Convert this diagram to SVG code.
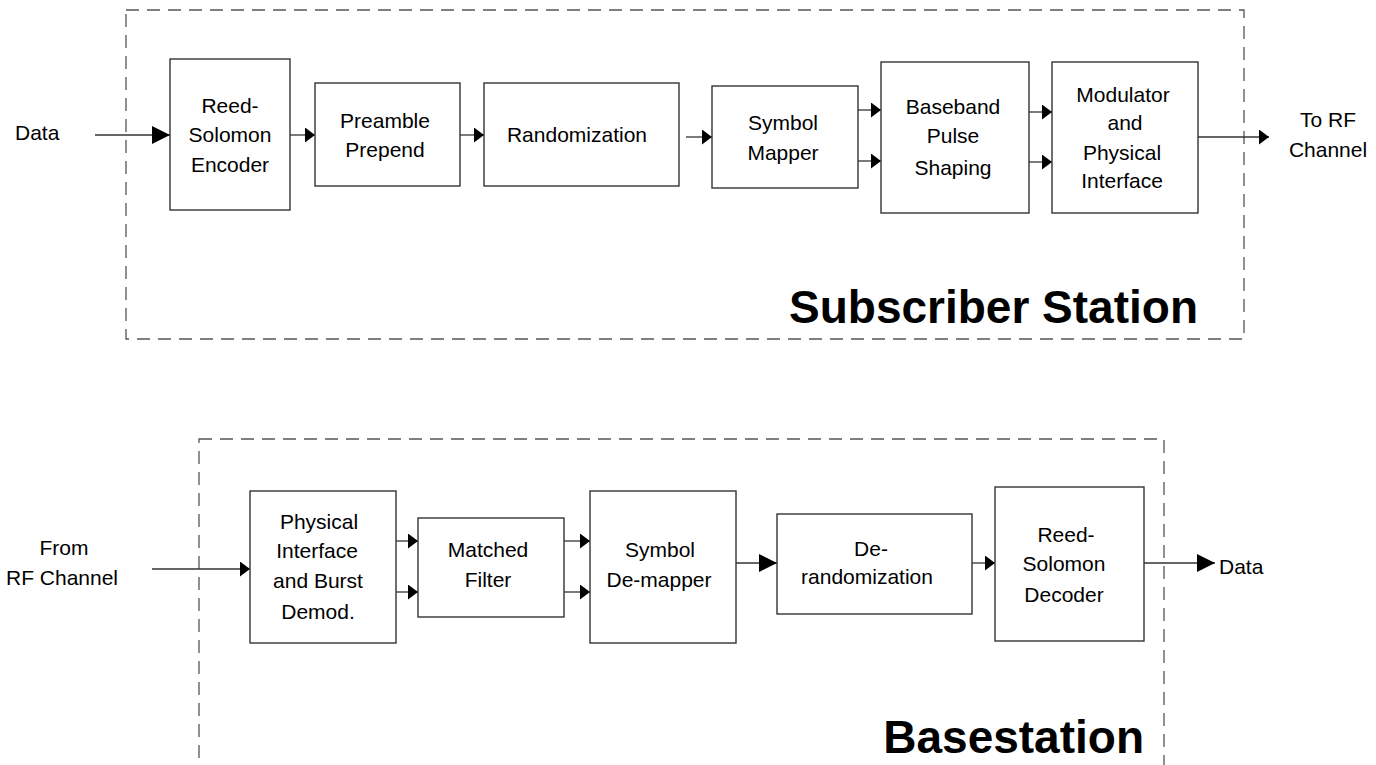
<svg xmlns="http://www.w3.org/2000/svg" width="1376" height="765" viewBox="0 0 1376 765">
<style>
.bg{fill:#fff}
.frame{fill:none;stroke:#555;stroke-width:1.3;stroke-dasharray:13 8}
.box{fill:#fff;stroke:#333;stroke-width:1.4}
.ln{fill:none;stroke:#333;stroke-width:1.3}
.t{font-family:"Liberation Sans",Arial,sans-serif;font-size:21px;fill:#000;text-anchor:middle}
.tl{font-family:"Liberation Sans",Arial,sans-serif;font-size:21px;fill:#000}
.title{font-family:"Liberation Sans",Arial,sans-serif;font-size:46px;font-weight:bold;fill:#000;text-anchor:end}
</style>
<defs>
<marker id="big" markerUnits="userSpaceOnUse" markerWidth="18" markerHeight="18" refX="18" refY="9" orient="auto" viewBox="0 0 18 18"><path d="M0,0 L18,9 L0,18 Z" fill="#000"/></marker>
<marker id="sm" markerUnits="userSpaceOnUse" markerWidth="10" markerHeight="15" refX="10" refY="7.5" orient="auto" viewBox="0 0 10 15"><path d="M0,0 L10,7.5 L0,15 Z" fill="#000"/></marker>
</defs>
<rect class="bg" x="0" y="0" width="1376" height="765"/>
<g id="frames">
<rect class="frame" x="126" y="10" width="1118" height="329"/>
<rect class="frame" x="199" y="439" width="965" height="360"/>
</g>
<g id="labels">
<text class="tl" x="15" y="140">Data</text>
<text class="t" x="1328" y="127">To RF</text>
<text class="t" x="1328" y="157">Channel</text>
<text class="t" x="64" y="555">From</text>
<text class="t" x="62" y="585">RF Channel</text>
<text class="tl" x="1219" y="574">Data</text>
<text class="title" x="1198" y="323">Subscriber Station</text>
<text class="title" x="1144" y="753">Basestation</text>
</g>
<g id="connectors">
<line class="ln" x1="95" y1="135" x2="170" y2="135" marker-end="url(#big)"/>
<line class="ln" x1="290" y1="135" x2="315" y2="135" marker-end="url(#sm)"/>
<line class="ln" x1="460" y1="135" x2="484" y2="135" marker-end="url(#sm)"/>
<line class="ln" x1="686" y1="137" x2="712" y2="137" marker-end="url(#sm)"/>
<line class="ln" x1="855" y1="110" x2="881" y2="110" marker-end="url(#sm)"/>
<line class="ln" x1="855" y1="161" x2="881" y2="161" marker-end="url(#sm)"/>
<line class="ln" x1="1026" y1="112" x2="1052" y2="112" marker-end="url(#sm)"/>
<line class="ln" x1="1026" y1="162" x2="1052" y2="162" marker-end="url(#sm)"/>
<line class="ln" x1="1198" y1="137" x2="1269" y2="137" marker-end="url(#sm)"/>
<line class="ln" x1="152" y1="569" x2="250" y2="569" marker-end="url(#sm)"/>
<line class="ln" x1="393" y1="541" x2="418" y2="541" marker-end="url(#sm)"/>
<line class="ln" x1="393" y1="592" x2="418" y2="592" marker-end="url(#sm)"/>
<line class="ln" x1="564" y1="541" x2="590" y2="541" marker-end="url(#sm)"/>
<line class="ln" x1="564" y1="592" x2="590" y2="592" marker-end="url(#sm)"/>
<line class="ln" x1="727" y1="563" x2="777" y2="563" marker-end="url(#big)"/>
<line class="ln" x1="969" y1="563" x2="995" y2="563" marker-end="url(#sm)"/>
<line class="ln" x1="1141" y1="563" x2="1215" y2="563" marker-end="url(#big)"/>
</g>
<g id="rs-encoder">
<rect class="box" x="170" y="59" width="120" height="151"/>
<text class="t" x="230" y="113">Reed-</text>
<text class="t" x="230" y="142">Solomon</text>
<text class="t" x="230" y="172">Encoder</text>
</g>
<g id="preamble">
<rect class="box" x="315" y="83" width="145" height="103"/>
<text class="t" x="385" y="128">Preamble</text>
<text class="t" x="385" y="157">Prepend</text>
</g>
<g id="randomization">
<rect class="box" x="484" y="83" width="195" height="103"/>
<text class="t" x="577" y="142">Randomization</text>
</g>
<g id="symbol-mapper">
<rect class="box" x="712" y="86" width="146" height="102"/>
<text class="t" x="783" y="130">Symbol</text>
<text class="t" x="783" y="160">Mapper</text>
</g>
<g id="pulse-shaping">
<rect class="box" x="881" y="62" width="148" height="151"/>
<text class="t" x="953" y="114">Baseband</text>
<text class="t" x="953" y="143">Pulse</text>
<text class="t" x="953" y="175">Shaping</text>
</g>
<g id="modulator">
<rect class="box" x="1052" y="62" width="146" height="151"/>
<text class="t" x="1123" y="102">Modulator</text>
<text class="t" x="1125" y="130">and</text>
<text class="t" x="1122" y="160">Physical</text>
<text class="t" x="1122" y="188">Interface</text>
</g>
<g id="phy-demod">
<rect class="box" x="250" y="491" width="146" height="152"/>
<text class="t" x="319" y="529">Physical</text>
<text class="t" x="317" y="558">Interface</text>
<text class="t" x="318" y="588">and Burst</text>
<text class="t" x="318" y="619">Demod.</text>
</g>
<g id="matched-filter">
<rect class="box" x="418" y="518" width="146" height="99"/>
<text class="t" x="488" y="557">Matched</text>
<text class="t" x="488" y="587">Filter</text>
</g>
<g id="symbol-demapper">
<rect class="box" x="590" y="491" width="146" height="152"/>
<text class="t" x="660" y="557">Symbol</text>
<text class="t" x="659" y="587">De-mapper</text>
</g>
<g id="derandomization">
<rect class="box" x="777" y="514" width="195" height="100"/>
<text class="t" x="871" y="556">De-</text>
<text class="t" x="867" y="584">randomization</text>
</g>
<g id="rs-decoder">
<rect class="box" x="995" y="487" width="149" height="154"/>
<text class="t" x="1066" y="542">Reed-</text>
<text class="t" x="1064" y="571">Solomon</text>
<text class="t" x="1064" y="602">Decoder</text>
</g>
</svg>
